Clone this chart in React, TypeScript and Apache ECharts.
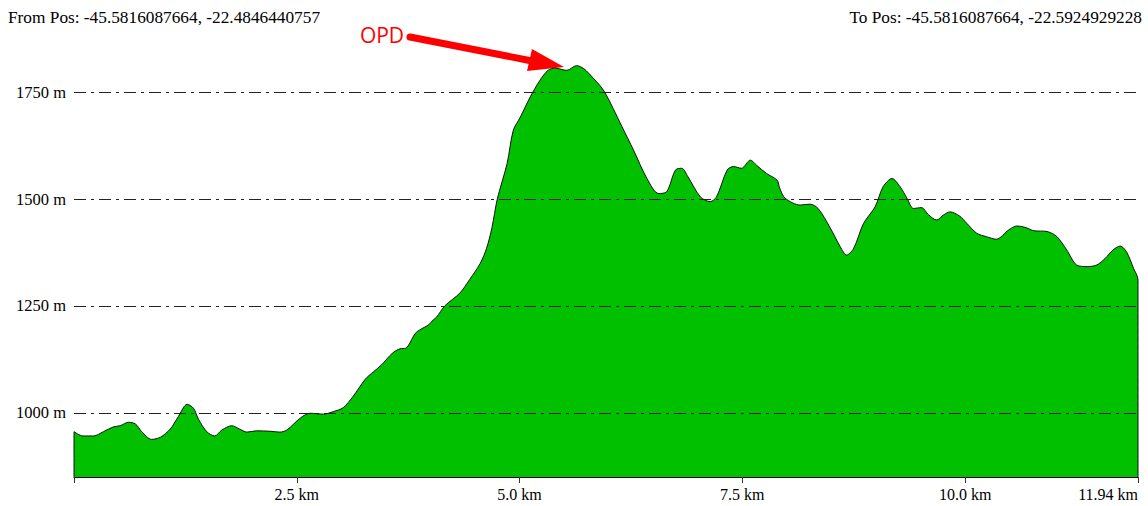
import React, { useEffect, useRef } from "react";
import * as echarts from "echarts";

// Elevation profile (distance in km, elevation in m)
const distKm = [
  0, 0.10, 0.22, 0.33, 0.44, 0.52, 0.61, 0.69, 0.76, 0.87,
  0.97, 1.08, 1.17, 1.27, 1.34, 1.40, 1.49, 1.58, 1.66, 1.77,
  1.86, 1.94, 2.05, 2.20, 2.31, 2.39, 2.54, 2.65, 2.80, 2.91,
  3.02, 3.13, 3.27, 3.36, 3.45, 3.57, 3.66, 3.72, 3.83, 3.88,
  3.98, 4.03, 4.07, 4.16, 4.33, 4.44, 4.56, 4.63, 4.69, 4.75,
  4.86, 4.93, 5.01, 5.12, 5.23, 5.32, 5.40, 5.53, 5.64,
  5.72, 5.83, 5.94, 6.05, 6.15, 6.28, 6.43, 6.56, 6.65, 6.75,
  6.82, 6.89, 7.03, 7.14, 7.21, 7.33, 7.40, 7.49, 7.59, 7.66,
  7.77, 7.89, 7.92, 7.98, 8.15, 8.26, 8.35, 8.48, 8.60, 8.67,
  8.75, 8.86, 8.99, 9.08, 9.18, 9.27, 9.35, 9.42, 9.51, 9.59,
  9.68, 9.76, 9.83, 9.94, 10.02, 10.13, 10.24, 10.35, 10.49, 10.58,
  10.67, 10.77, 10.92, 11.03, 11.14, 11.25, 11.37, 11.48, 11.57, 11.66,
  11.74, 11.81, 11.89, 11.94,
];
const elevM = [
  956, 946, 946, 956, 967, 970, 978, 974, 956, 938,
  943, 962, 991, 1020, 1011, 984, 956, 946, 960, 970,
  962, 955, 958, 957, 955, 960, 988, 999, 997, 1003,
  1012, 1038, 1079, 1096, 1112, 1139, 1150, 1151, 1186, 1194,
  1206, 1217, 1224, 1250, 1280, 1312, 1350, 1385, 1433, 1500,
  1583, 1661, 1692, 1739, 1778, 1801, 1806, 1801, 1812,
  1805, 1782, 1755, 1712, 1669, 1614, 1548, 1513, 1517, 1568,
  1572, 1552, 1505, 1494, 1505, 1568, 1576, 1572, 1591, 1579,
  1560, 1544, 1525, 1502, 1486, 1488, 1478, 1435, 1388, 1369,
  1385, 1443, 1482, 1529, 1548, 1529, 1501, 1478, 1480, 1463,
  1451, 1463, 1470, 1460, 1443, 1420, 1412, 1406, 1428, 1437,
  1434, 1426, 1424, 1412, 1381, 1346, 1342, 1346, 1361, 1381,
  1390, 1377, 1338, 1311,
];
const gridValues = [1000, 1250, 1500, 1750];
const fromText = "From Pos: -45.5816087664, -22.4846440757";
const toText = "To Pos: -45.5816087664, -22.5924929228";
const annotationText = "OPD";
const Y_MIN = 850;
const Y_MAX = 1900;
const X_MAX = 11.94;

const SERIF = '"Liberation Serif", "Times New Roman", serif';

export default function App() {
  const ref = useRef<HTMLDivElement>(null);
  useEffect(() => {
    const chart = echarts.init(ref.current!, null, { renderer: "svg" });
    const last = distKm.length - 1;
    const data: number[][] = [
      [distKm[0], Y_MIN],
      ...distKm.map((d, i) => [d, elevM[i]]),
      [distKm[last], Y_MIN],
    ];
    chart.setOption({
      animation: false,
      grid: { left: 74, right: 10, top: 28, bottom: 29 },
      xAxis: {
        type: "value",
        min: 0,
        max: X_MAX,
        interval: 2.5,
        axisLine: { show: true, onZero: false, lineStyle: { color: "#000", width: 1 } },
        axisTick: { show: true, length: 6, lineStyle: { color: "#333", width: 1 } },
        splitLine: { show: false },
        axisLabel: {
          show: true,
          showMinLabel: true,
          showMaxLabel: true,
          alignMaxLabel: "right",
          margin: 9,
          color: "#000",
          fontFamily: SERIF,
          fontSize: 16,
          formatter: (v: number) => {
            if (v === 0) return "";
            if (Math.abs(v - X_MAX) < 1e-6) return `${X_MAX} km`;
            return `${v.toFixed(1)} km`;
          },
        },
      },
      yAxis: {
        type: "value",
        min: Y_MIN,
        max: Y_MAX,
        interval: 50,
        axisLine: { show: false },
        axisTick: { show: false },
        splitLine: { show: false },
        axisLabel: {
          margin: 8,
          color: "#000",
          fontFamily: SERIF,
          fontSize: 16.5,
          formatter: (v: number) => (gridValues.includes(v) ? `${v} m` : ""),
        },
      },
      series: [
        {
          type: "line",
          data,
          symbol: "none",
          smooth: 0.3,
          lineStyle: { color: "#111", width: 1 },
          areaStyle: { color: "#00c000", opacity: 1, origin: "start" },
          markLine: {
            silent: true,
            symbol: ["none", "none"],
            label: { show: false },
            lineStyle: { color: "#222", width: 1, type: [12, 5, 3, 5] },
            data: gridValues.map((v) => ({ yAxis: v })),
          },
        },
      ],
      graphic: [
        {
          type: "text",
          x: 8,
          y: 17,
          style: {
            text: fromText,
            font: `17.3px ${SERIF}`,
            fill: "#000",
            align: "left",
            verticalAlign: "middle",
            textAlign: "left",
            textVerticalAlign: "middle",
          },
        },
        {
          type: "text",
          x: 1142,
          y: 17,
          style: {
            text: toText,
            font: `17.3px ${SERIF}`,
            fill: "#000",
            align: "right",
            verticalAlign: "middle",
            textAlign: "right",
            textVerticalAlign: "middle",
          },
        },
        {
          type: "text",
          x: 382,
          y: 35,
          style: {
            text: annotationText,
            font: '21px "Open Sans", "Noto Sans", sans-serif',
            fill: "#ff0000",
            align: "center",
            verticalAlign: "middle",
            textAlign: "center",
            textVerticalAlign: "middle",
          },
        },
        {
          type: "line",
          shape: { x1: 410, y1: 37, x2: 532, y2: 61 },
          style: { stroke: "#ff0000", lineWidth: 7, lineCap: "round" },
        },
        {
          type: "polygon",
          shape: { points: [[532, 49], [527, 71], [564, 67]] },
          style: { fill: "#ff0000" },
        },
      ],
    });
    return () => chart.dispose();
  }, []);
  return (
    <div
      ref={ref}
      style={{ position: "absolute", left: 0, top: 0, width: 1148, height: 506 }}
    />
  );
}
